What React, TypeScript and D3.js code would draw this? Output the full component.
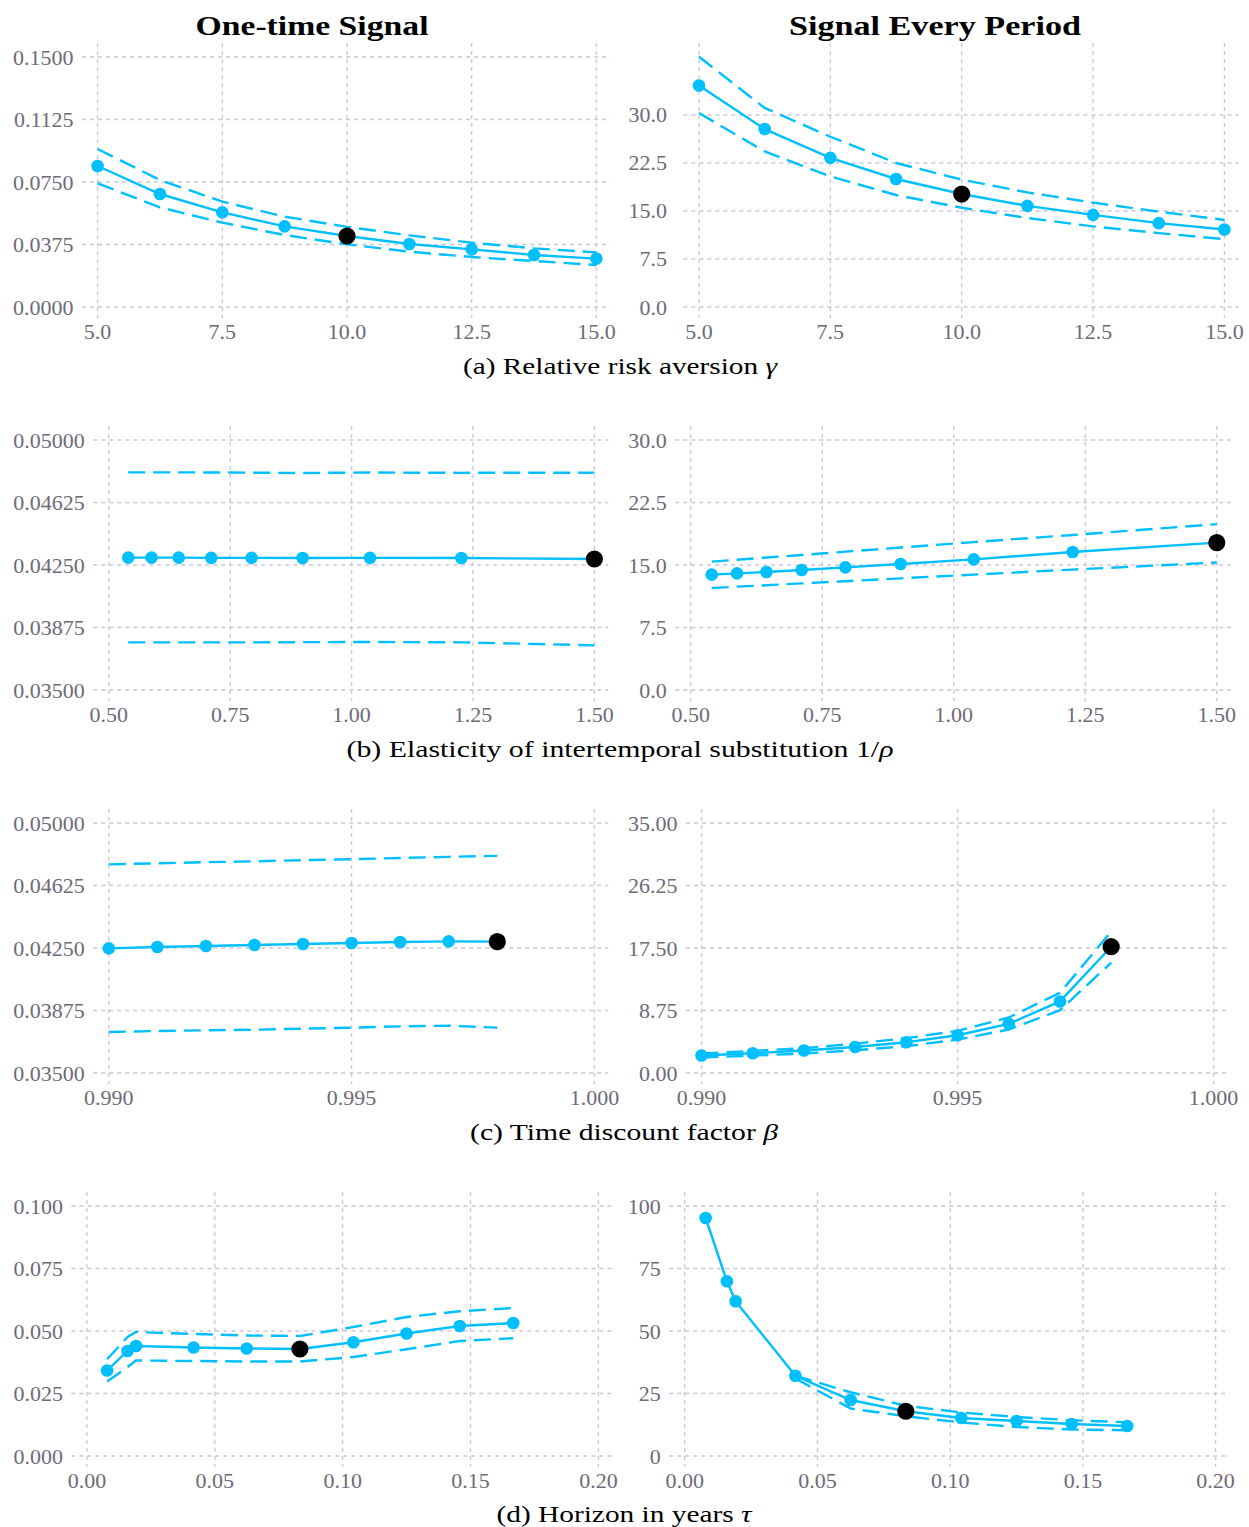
import React from 'react';
import * as d3 from 'd3';

// ---- data ----
const gammaGrid = [5, 6.25, 7.5, 8.75, 10, 11.25, 12.5, 13.75, 15];
const gammaOnceMid = [0.0846, 0.0678, 0.0568, 0.0484, 0.0426, 0.0378, 0.0346, 0.0312, 0.029];
const gammaOnceUp = [0.0948, 0.0762, 0.0632, 0.0542, 0.0481, 0.043, 0.0386, 0.0352, 0.0328];
const gammaOnceLo = [0.0742, 0.0598, 0.0506, 0.0432, 0.0376, 0.0332, 0.03, 0.0276, 0.0252];
const gammaEveryMid = [34.6, 27.8, 23.3, 20.0, 17.65, 15.8, 14.4, 13.1, 12.1];
const gammaEveryUp = [39.1, 31.1, 26.6, 22.5, 19.9, 17.9, 16.3, 14.9, 13.6];
const gammaEveryLo = [30.3, 24.3, 20.4, 17.5, 15.5, 13.9, 12.6, 11.55, 10.6];

const eisGrid = [0.54, 0.588, 0.644, 0.711, 0.794, 0.899, 1.038, 1.226, 1.5];
const eisOnceMid = [0.04294, 0.04294, 0.04294, 0.04293, 0.04293, 0.04292, 0.04293, 0.04292, 0.04286];
const eisOnceUp = [0.04806, 0.04806, 0.04806, 0.04805, 0.04804, 0.04802, 0.04805, 0.04803, 0.04804];
const eisOnceLo = [0.03786, 0.03786, 0.03786, 0.03786, 0.03786, 0.03787, 0.03788, 0.03786, 0.03768];
const eisEveryMid = [13.84, 14.0, 14.16, 14.4, 14.72, 15.12, 15.68, 16.56, 17.68];
const eisEveryUp = [15.4, 15.63, 15.9, 16.2, 16.6, 17.1, 17.75, 18.6, 19.9];
const eisEveryLo = [12.24, 12.4, 12.57, 12.8, 13.05, 13.4, 13.85, 14.45, 15.3];

const betaGrid = [0.99, 0.991, 0.992, 0.993, 0.994, 0.995, 0.996, 0.997, 0.998];
const betaOnceMid = [0.04248, 0.04256, 0.04262, 0.04268, 0.04274, 0.0428, 0.04286, 0.0429, 0.04288];
const betaOnceUp = [0.04752, 0.04758, 0.04765, 0.0477, 0.04777, 0.04783, 0.0479, 0.04797, 0.04803];
const betaOnceLo = [0.03746, 0.03752, 0.03756, 0.0376, 0.03766, 0.03772, 0.0378, 0.03784, 0.03772];
const betaEveryMid = [2.44, 2.76, 3.14, 3.65, 4.31, 5.29, 6.88, 10.02, 17.68];
const betaEveryUp = [2.72, 3.1, 3.47, 4.12, 4.87, 5.9, 7.77, 11.23, 19.79];
const betaEveryLo = [2.16, 2.44, 2.72, 3.19, 3.75, 4.68, 6.09, 8.8, 15.44];

const horizonGrid = [0.0079, 0.0159, 0.0192, 0.0417, 0.0625, 0.0833, 0.1042, 0.125, 0.1458, 0.1667];
const horizonOnceMid = [0.0342, 0.042, 0.044, 0.0434, 0.043, 0.0428, 0.0455, 0.049, 0.052, 0.0532];
const horizonOnceUp = [0.0387, 0.0476, 0.0496, 0.0488, 0.0482, 0.048, 0.0516, 0.0556, 0.0579, 0.0592];
const horizonOnceLo = [0.0298, 0.0356, 0.0382, 0.038, 0.0378, 0.0378, 0.0396, 0.0427, 0.046, 0.0471];
const horizonEveryMid = [95.2, 69.9, 61.9, 32.1, 22.4, 17.9, 15.2, 14.0, 12.8, 12.0];
const horizonEveryUp = [null, null, null, 32.1, 25.5, 20.1, 17.4, 15.6, 14.3, 13.5];
const horizonEveryLo = [null, null, null, 31.0, 19.0, 15.9, 13.4, 11.6, 10.6, 10.3];

const gammaTicks = [5, 7.5, 10, 12.5, 15];
const eisTicks = [0.5, 0.75, 1, 1.25, 1.5];
const betaTicks = [0.99, 0.995, 1];
const horizonTicks = [0, 0.05, 0.1, 0.15, 0.2];

const titles = ['One-time Signal', 'Signal Every Period'];

const BLUE = '#00bfff';
const GRID = '#c9c5da';
const TICK = '#6f6978';
const SERIF = '"Liberation Serif", "Times New Roman", serif';

type PanelProps = {
  xs: number[];
  mid: number[];
  up: (number | null)[];
  lo: (number | null)[];
  base: number;
  xDomain: [number, number];
  xPix: [number, number];
  xTicks: number[];
  xFmt: string;
  yDomain: [number, number];
  yPix: [number, number];
  yTicks: number[];
  yFmt: string;
  labelRight?: number;
};

function Panel(p: PanelProps) {
  const x = d3.scaleLinear().domain(p.xDomain).range(p.xPix);
  const y = d3.scaleLinear().domain(p.yDomain).range(p.yPix);
  const left = p.xPix[0] - 15.5;
  const right = p.xPix[1] + 14;
  const top = Math.min(...p.yPix) - 14;
  const bottom = Math.max(...p.yPix) + 11;
  const fx = d3.format(p.xFmt);
  const fy = d3.format(p.yFmt);
  const labelRight = p.labelRight ?? left - 8.5;

  const pts = p.xs.map((v, i) => ({ x: v, m: p.mid[i], u: p.up[i], l: p.lo[i] }));
  const mk = (key: 'm' | 'u' | 'l') =>
    d3.line<any>()
      .defined(d => d[key] != null)
      .x(d => x(d.x))
      .y(d => y(d[key]))(pts) || '';

  return (
    <g>
      {p.yTicks.map(t => (
        <g key={'y' + t}>
          <line x1={left} x2={right} y1={y(t)} y2={y(t)} stroke={GRID} strokeWidth={1.3} strokeDasharray="4,4" />
          <text x={labelRight} y={y(t) + 7.5} textAnchor="end" fill={TICK} fontSize={22} fontFamily={SERIF}>{fy(t)}</text>
        </g>
      ))}
      {p.xTicks.map(t => (
        <g key={'x' + t}>
          <line x1={x(t)} x2={x(t)} y1={top} y2={bottom} stroke={GRID} strokeWidth={1.3} strokeDasharray="4,4" />
          <text x={x(t)} y={bottom + 21} textAnchor="middle" fill={TICK} fontSize={22} fontFamily={SERIF}>{fx(t)}</text>
        </g>
      ))}
      <path d={mk('u')} fill="none" stroke={BLUE} strokeWidth={2.4} strokeDasharray="17,8" />
      <path d={mk('l')} fill="none" stroke={BLUE} strokeWidth={2.4} strokeDasharray="17,8" />
      <path d={mk('m')} fill="none" stroke={BLUE} strokeWidth={2.4} />
      {pts.map((d, i) =>
        i === p.base ? null : <circle key={i} cx={x(d.x)} cy={y(d.m)} r={6.3} fill={BLUE} />
      )}
      <circle cx={x(pts[p.base].x)} cy={y(pts[p.base].m)} r={8.6} fill="#000" />
    </g>
  );
}

function Caption({ cx, cy, len, children }: { cx: number; cy: number; len: number; children: React.ReactNode }) {
  return (
    <text x={cx} y={cy} textAnchor="middle" fontSize={23} fontFamily={SERIF} fill="#000"
      textLength={len} lengthAdjust="spacingAndGlyphs">
      {children}
    </text>
  );
}

export default function App() {
  const rowY: [number, number][] = [[307, 57], [690, 440], [1073, 823], [1456, 1206]];
  return (
    <svg width={1249} height={1527} style={{ position: 'absolute', left: 0, top: 0, background: '#fff' }}>
      <text x={312} y={35} textAnchor="middle" fontSize={28} fontWeight="bold" fontFamily={SERIF}
        textLength={233} lengthAdjust="spacingAndGlyphs">{titles[0]}</text>
      <text x={935} y={35} textAnchor="middle" fontSize={28} fontWeight="bold" fontFamily={SERIF}
        textLength={292} lengthAdjust="spacingAndGlyphs">{titles[1]}</text>

      {/* (a) risk aversion */}
      <Panel xs={gammaGrid} mid={gammaOnceMid} up={gammaOnceUp} lo={gammaOnceLo} base={4}
        xDomain={[5, 15]} xPix={[97.6, 596.4]} xTicks={gammaTicks} xFmt=".1f"
        yDomain={[0, 0.15]} yPix={rowY[0]} yTicks={[0, 0.0375, 0.075, 0.1125, 0.15]} yFmt=".4f" />
      <Panel xs={gammaGrid} mid={gammaEveryMid} up={gammaEveryUp} lo={gammaEveryLo} base={4}
        xDomain={[5, 15]} xPix={[699, 1224.4]} xTicks={gammaTicks} xFmt=".1f"
        yDomain={[0, 39.06]} yPix={rowY[0]} yTicks={[0, 7.5, 15, 22.5, 30]} yFmt=".1f" labelRight={667} />
      <Caption cx={620} cy={374} len={314}>(a) Relative risk aversion <tspan fontStyle="italic">γ</tspan></Caption>

      {/* (b) EIS */}
      <Panel xs={eisGrid} mid={eisOnceMid} up={eisOnceUp} lo={eisOnceLo} base={8}
        xDomain={[0.5, 1.5]} xPix={[108.8, 594.4]} xTicks={eisTicks} xFmt=".2f"
        yDomain={[0.035, 0.05]} yPix={rowY[1]} yTicks={[0.035, 0.03875, 0.0425, 0.04625, 0.05]} yFmt=".5f" />
      <Panel xs={eisGrid} mid={eisEveryMid} up={eisEveryUp} lo={eisEveryLo} base={8}
        xDomain={[0.5, 1.5]} xPix={[690.7, 1216.8]} xTicks={eisTicks} xFmt=".2f"
        yDomain={[0, 30]} yPix={rowY[1]} yTicks={[0, 7.5, 15, 22.5, 30]} yFmt=".1f" />
      <Caption cx={620} cy={757} len={547}>(b) Elasticity of intertemporal substitution 1/<tspan fontStyle="italic">ρ</tspan></Caption>

      {/* (c) discount factor */}
      <Panel xs={betaGrid} mid={betaOnceMid} up={betaOnceUp} lo={betaOnceLo} base={8}
        xDomain={[0.99, 1]} xPix={[108.8, 594.4]} xTicks={betaTicks} xFmt=".3f"
        yDomain={[0.035, 0.05]} yPix={rowY[2]} yTicks={[0.035, 0.03875, 0.0425, 0.04625, 0.05]} yFmt=".5f" />
      <Panel xs={betaGrid} mid={betaEveryMid} up={betaEveryUp} lo={betaEveryLo} base={8}
        xDomain={[0.99, 1]} xPix={[701.5, 1213.6]} xTicks={betaTicks} xFmt=".3f"
        yDomain={[0, 35]} yPix={rowY[2]} yTicks={[0, 8.75, 17.5, 26.25, 35]} yFmt=".2f" />
      <Caption cx={624} cy={1140} len={308}>(c) Time discount factor <tspan fontStyle="italic">β</tspan></Caption>

      {/* (d) horizon */}
      <Panel xs={horizonGrid} mid={horizonOnceMid} up={horizonOnceUp} lo={horizonOnceLo} base={5}
        xDomain={[0, 0.2]} xPix={[86.9, 598.4]} xTicks={horizonTicks} xFmt=".2f"
        yDomain={[0, 0.1]} yPix={rowY[3]} yTicks={[0, 0.025, 0.05, 0.075, 0.1]} yFmt=".3f" />
      <Panel xs={horizonGrid} mid={horizonEveryMid} up={horizonEveryUp} lo={horizonEveryLo} base={5}
        xDomain={[0, 0.2]} xPix={[684.7, 1215.6]} xTicks={horizonTicks} xFmt=".2f"
        yDomain={[0, 100]} yPix={rowY[3]} yTicks={[0, 25, 50, 75, 100]} yFmt="d" />
      <Caption cx={624} cy={1522} len={255}>(d) Horizon in years <tspan fontStyle="italic">τ</tspan></Caption>
    </svg>
  );
}
